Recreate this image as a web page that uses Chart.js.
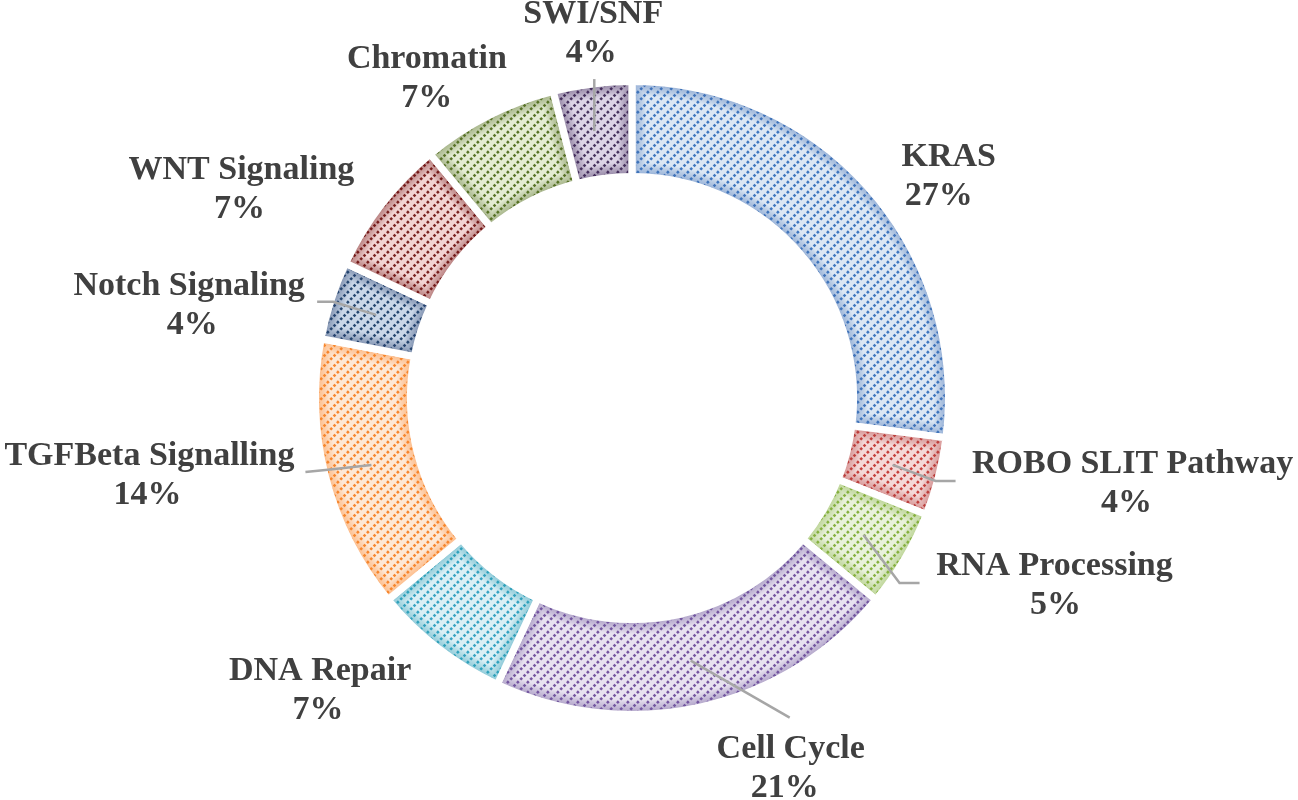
<!DOCTYPE html>
<html><head><meta charset="utf-8">
<script src="https://cdn.jsdelivr.net/npm/chart.js@4.4.1/dist/chart.umd.min.js"></script>
<style>html,body{margin:0;padding:0;background:#fff;} #c{display:block;}</style>
</head><body>
<canvas id="c" width="1298" height="800"></canvas>
<script>
// ---- data ----
const categories = ['KRAS','ROBO SLIT Pathway','RNA Processing','Cell Cycle','DNA Repair','TGFBeta Signalling','Notch Signaling','WNT Signaling','Chromatin','SWI/SNF'];
const shares = [27, 4, 5, 21, 7, 14, 4, 7, 7, 4];
const percentLabels = shares.map(v => v + '%');

// ---- styles ----
const dotColors   = ['#3f77bf','#c4403c','#86b03f','#7555a0','#36a3c2','#f7862e','#24466f','#7a2220','#577326','#46335e'];
const lightColors = ['#dce7f4','#f4d9d8','#e9f1dc','#e8e2f0','#daeff5','#fde8d6','#cad7e8','#f2d4d3','#e4ecd3','#dcd4e6'];

// label layout: offsets from the arc centroid (text center x, first baseline y), 2nd-line x shift, leader polyline
const labelLayout = [
  {dx: 115, dy: -54, dx2: -10, leader: null},
  {dx: 240, dy: 8,   dx2: -6,  leader: [[0,0],[43,16],[63,16]]},
  {dx: 191, dy: 40,  dx2: 1,   leader: [[0,0],[36,48],[56,48]]},
  {dx: 100, dy: 97,  dx2: -6,  leader: [[0,0],[99,57]]},
  {dx: -147,dy: 69,  dx2: -2,  leader: null},
  {dx: -222,dy: 0,   dx2: -2,  leader: [[0,0],[-46,5],[-66,7]]},
  {dx: -187,dy: -20, dx2: 3,   leader: [[0,0],[-43,-13],[-59,-13]]},
  {dx: -178,dy: -54, dx2: -2,  leader: null},
  {dx: -83, dy: -90, dx2: 0,   leader: null},
  {dx: -5,  dy: -108,dx2: -2,  leader: [[-4,0],[-4,-52]]}
];

function makePattern(bg, dot) {
  const S = 10;
  const t = document.createElement('canvas');
  t.width = S; t.height = S;
  const g = t.getContext('2d');
  g.fillStyle = bg; g.fillRect(0,0,S,S);
  g.fillStyle = dot;
  // diamond dots along an upward diagonal (x + y = S), repeated with wrap
  const step = S / 3;
  for (let k = -1; k <= 3; k++) {
    for (const off of [0, S, -S]) {
      const cx = k * step + 1.2, cy = S - k * step - 1.2 + off;
      g.beginPath();
      g.moveTo(cx, cy - 1.8); g.lineTo(cx + 1.8, cy); g.lineTo(cx, cy + 1.8); g.lineTo(cx - 1.8, cy);
      g.closePath(); g.fill();
    }
  }
  return document.getElementById('c').getContext('2d').createPattern(t, 'repeat');
}
const patterns = lightColors.map((bg,i) => makePattern(bg, dotColors[i]));

function hexToRgba(h, a) {
  const n = parseInt(h.slice(1),16);
  return `rgba(${(n>>16)&255},${(n>>8)&255},${n&255},${a})`;
}

function sectorPath(ctx, a) {
  ctx.beginPath();
  ctx.arc(a.x, a.y, a.outerRadius, a.startAngle, a.endAngle);
  ctx.arc(a.x, a.y, a.innerRadius, a.endAngle, a.startAngle, true);
  ctx.closePath();
}

const glowPlugin = {
  id: 'glowAndLabels',
  afterDatasetsDraw(chart) {
    const ctx = chart.ctx;
    const meta = chart.getDatasetMeta(0);
    const bw = chart.data.datasets[0].borderWidth;
    meta.data.forEach((arc, i) => {
      const a = arc.getProps(['x','y','startAngle','endAngle','innerRadius','outerRadius'], true);
      ctx.save();
      sectorPath(ctx, a);
      ctx.clip();
      for (let w = 8; w <= 28; w += 2) {
        ctx.lineWidth = w;
        ctx.strokeStyle = hexToRgba(dotColors[i], 0.045);
        ctx.lineJoin = 'miter';
        sectorPath(ctx, a);
        ctx.stroke();
      }
      ctx.restore();
      ctx.save();
      ctx.lineWidth = bw;
      ctx.strokeStyle = '#ffffff';
      ctx.lineJoin = 'miter';
      sectorPath(ctx, a);
      ctx.stroke();
      ctx.restore();
    });
    // leaders + labels
    meta.data.forEach((arc, i) => {
      const c = arc.tooltipPosition(true);
      const L = labelLayout[i];
      if (L.leader) {
        ctx.save();
        ctx.strokeStyle = '#a6a6a6';
        ctx.lineWidth = 2.5;
        ctx.beginPath();
        L.leader.forEach(([px,py], k) => {
          if (k === 0) ctx.moveTo(c.x+px, c.y+py); else ctx.lineTo(c.x+px, c.y+py);
        });
        ctx.stroke();
        ctx.restore();
      }
      ctx.save();
      ctx.fillStyle = '#404040';
      ctx.font = 'bold 34px "Liberation Serif", "Times New Roman", serif';
      ctx.textAlign = 'center';
      ctx.textBaseline = 'alphabetic';
      ctx.fillText(categories[i], c.x + L.dx, c.y + L.dy);
      ctx.fillText(percentLabels[i], c.x + L.dx + L.dx2, c.y + L.dy + 39);
      ctx.restore();
    });
  }
};

new Chart(document.getElementById('c'), {
  type: 'doughnut',
  data: {
    labels: categories,
    datasets: [{
      data: shares,
      backgroundColor: patterns,
      borderColor: '#ffffff',
      borderWidth: 7,
      borderJoinStyle: 'miter',
      borderAlign: 'center'
    }]
  },
  options: {
    responsive: false,
    animation: false,
    devicePixelRatio: 1,
    cutout: '70%',
    events: [],
    layout: {padding: {left: 312, right: 346, top: 78, bottom: 82}},
    plugins: {legend: {display: false}, tooltip: {enabled: false}}
  },
  plugins: [glowPlugin]
});
</script>
</body></html>
